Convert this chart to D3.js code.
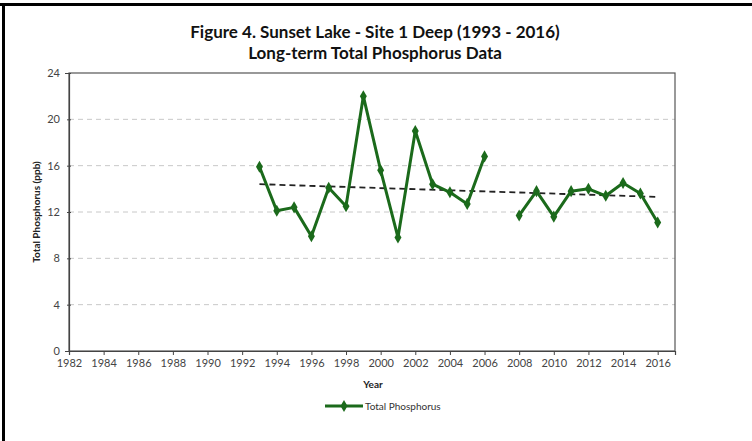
<!DOCTYPE html>
<html><head><meta charset="utf-8">
<script src="https://cdn.jsdelivr.net/npm/d3@7"></script>
<style>body{margin:0;background:#fff}svg{display:block}</style>
</head><body><svg id="c" width="752" height="441"></svg>
<script>
const years = [1993,1994,1995,1996,1997,1998,1999,2000,2001,2002,2003,2004,2005,2006,2007,2008,2009,2010,2011,2012,2013,2014,2015,2016];
const tp =    [15.9,12.1,12.4,9.9,14.1,12.5,22.0,15.6,9.8,19.0,14.4,13.7,12.7,16.8,null,11.7,13.8,11.6,13.8,14.0,13.4,14.5,13.6,11.1];
const trendYears = [1993,2016];
const trendVals = [14.4,13.3];
const xTicks = d3.range(1982,2017,2);
const yTicks = [0,4,8,12,16,20,24];

const svg = d3.select("#c");
const font = "Lato, 'Open Sans', sans-serif";
const M = {l:69, r:675, t:73, b:351};
const x = d3.scaleLinear().domain([1982,2017]).range([M.l,M.r]);
const y = d3.scaleLinear().domain([0,24]).range([M.b,M.t]);

// outer frame (top & left)
svg.append("line").attr("x1",0).attr("x2",752).attr("y1",4.5).attr("y2",4.5).attr("stroke","#000").attr("stroke-width",3);
svg.append("line").attr("x1",3.5).attr("x2",3.5).attr("y1",3).attr("y2",441).attr("stroke","#000").attr("stroke-width",3);

// titles
svg.append("text").attr("x",375).attr("y",38).attr("text-anchor","middle").attr("font-family",font).attr("font-weight","bold").attr("font-size",17).attr("fill","#111").text("Figure 4. Sunset Lake - Site 1 Deep (1993 - 2016)");
svg.append("text").attr("x",375).attr("y",59).attr("text-anchor","middle").attr("font-family",font).attr("font-weight","bold").attr("font-size",17).attr("fill","#111").text("Long-term Total Phosphorus Data");

// gridlines
svg.append("g").selectAll("line").data(yTicks.filter(d=>d>0&&d<24)).join("line")
  .attr("x1",M.l).attr("x2",M.r).attr("y1",d=>y(d)).attr("y2",d=>y(d))
  .attr("stroke","#c8c8c8").attr("stroke-width",1).attr("stroke-dasharray","5,4");

// plot frame
svg.append("rect").attr("x",M.l).attr("y",M.t).attr("width",M.r-M.l).attr("height",M.b-M.t).attr("fill","none").attr("stroke","#555").attr("stroke-width",1.2);

// axes
const xa = svg.append("g").attr("transform",`translate(0,${M.b})`).call(d3.axisBottom(x).tickValues(xTicks).tickFormat(d3.format("d")).tickSize(4).tickPadding(4));
const ya = svg.append("g").attr("transform",`translate(${M.l},0)`).call(d3.axisLeft(y).tickValues(yTicks).tickSize(4).tickPadding(5));
[xa,ya].forEach(a=>{
  a.select(".domain").attr("stroke","#444").attr("stroke-width",1.2);
  a.selectAll(".tick line").attr("stroke","#444");
  a.selectAll(".tick text").attr("font-family",font).attr("font-size",11).attr("fill","#444");
});
ya.selectAll(".tick line").attr("transform","translate(2,0)");

// axis titles
svg.append("text").attr("x",373).attr("y",388).attr("text-anchor","middle").attr("font-family",font).attr("font-weight","bold").attr("font-size",10).attr("fill","#222").text("Year");
svg.append("text").attr("transform","translate(40,212) rotate(-90)").attr("text-anchor","middle").attr("font-family",font).attr("font-weight","bold").attr("font-size",10).attr("fill","#222").text("Total Phosphorus (ppb)");

// trend
svg.append("line").attr("x1",x(trendYears[0])).attr("x2",x(trendYears[1])).attr("y1",y(trendVals[0])).attr("y2",y(trendVals[1]))
  .attr("stroke","#222").attr("stroke-width",1.8).attr("stroke-dasharray","6,4");

// series
const green = "#1b6a1b";
const data = years.map((yr,i)=>({yr,v:tp[i]}));
const line = d3.line().defined(d=>d.v!=null).x(d=>x(d.yr)).y(d=>y(d.v));
svg.append("path").datum(data).attr("d",line).attr("fill","none").attr("stroke",green).attr("stroke-width",3).attr("stroke-linejoin","round");
const sym = d3.symbol().type(d3.symbolDiamond).size(42);
svg.append("g").selectAll("path").data(data.filter(d=>d.v!=null)).join("path")
  .attr("transform",d=>`translate(${x(d.yr)},${y(d.v)})`).attr("d",sym).attr("fill",green);

// legend
svg.append("line").attr("x1",325).attr("x2",363).attr("y1",406).attr("y2",406).attr("stroke",green).attr("stroke-width",3);
svg.append("path").attr("transform","translate(344,406)").attr("d",sym).attr("fill",green);
svg.append("text").attr("x",365).attr("y",409.5).attr("font-family",font).attr("font-size",10).attr("fill","#333").text("Total Phosphorus");
</script></body></html>
